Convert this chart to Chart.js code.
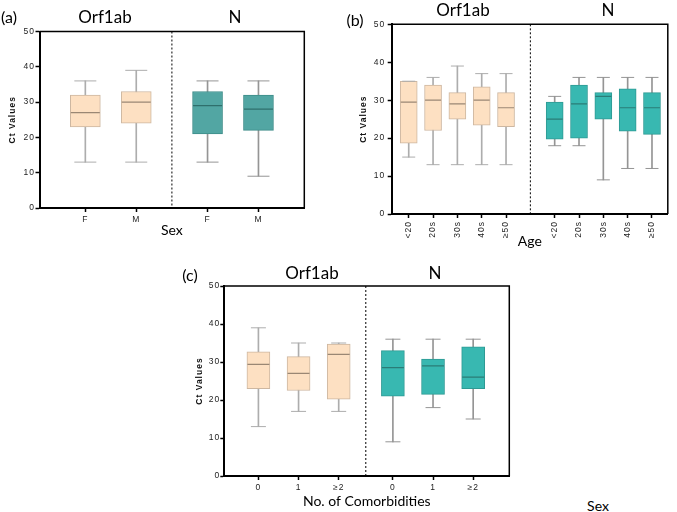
<!DOCTYPE html>
<html><head><meta charset="utf-8">
<script src="https://cdn.jsdelivr.net/npm/chart.js@4.4.1/dist/chart.umd.min.js"></script>
<style>
html,body{margin:0;padding:0;background:#fff;}
body{width:677px;height:512px;position:relative;overflow:hidden;font-family:Lato,'Liberation Sans',sans-serif;}
.wrap{position:absolute;}
.lbl{position:absolute;transform:translate(-50%,-50%);white-space:nowrap;color:#000;line-height:1;}
</style></head><body>
<div class="wrap" style="left:0;top:0;"><canvas id="ca" width="320" height="245" style="width:320px;height:245px"></canvas></div>
<div class="wrap" style="left:330px;top:0;"><canvas id="cb" width="347" height="250" style="width:347px;height:250px"></canvas></div>
<div class="wrap" style="left:170px;top:250px;"><canvas id="cc" width="360" height="262" style="width:360px;height:262px"></canvas></div>

<div class="lbl" style="left:9px;top:17px;font-size:16px">(a)</div>
<div class="lbl" style="left:105px;top:16px;font-size:17px">Orf1ab</div>
<div class="lbl" style="left:235px;top:16px;font-size:17px">N</div>
<div class="lbl" style="left:355px;top:20px;font-size:16px">(b)</div>
<div class="lbl" style="left:463px;top:9px;font-size:17px">Orf1ab</div>
<div class="lbl" style="left:608px;top:9px;font-size:17px">N</div>
<div class="lbl" style="left:190px;top:275px;font-size:16px">(c)</div>
<div class="lbl" style="left:312px;top:272px;font-size:17px">Orf1ab</div>
<div class="lbl" style="left:435px;top:272px;font-size:17px">N</div>
<div class="lbl" style="left:598px;top:506px;font-size:14px">Sex</div>

<script>
// ---------- data ----------
const yTicks = [0, 10, 20, 30, 40, 50];

// (a) Sex
const sexLabels = ['F', 'M', 'F', 'M'];
const sexGene   = ['Orf1ab', 'Orf1ab', 'N', 'N'];
const sexMin    = [13, 13, 13, 9];
const sexQ1     = [23, 24, 21, 22];
const sexMedian = [27, 30, 29, 28];
const sexQ3     = [32, 33, 33, 32];
const sexMax    = [36, 39, 36, 36];

// (b) Age
const ageLabels = ['<20', '20s', '30s', '40s', '≥50', '<20', '20s', '30s', '40s', '≥50'];
const ageGene   = ['Orf1ab', 'Orf1ab', 'Orf1ab', 'Orf1ab', 'Orf1ab', 'N', 'N', 'N', 'N', 'N'];
const ageMin    = [15, 13, 13, 13, 13, 18, 18, 9, 12, 12];
const ageQ1     = [18.7, 22, 25, 23.4, 23, 19.7, 20, 25, 21.8, 21];
const ageMedian = [29.5, 30, 29, 30, 28, 25, 29, 31, 28, 28];
const ageQ3     = [35, 34, 32, 33.5, 32, 29.5, 34, 32, 33, 32];
const ageMax    = [35, 36, 39, 37, 37, 31, 36, 36, 36, 36];

// (c) No. of Comorbidities
const comLabels = ['0', '1', '≥2', '0', '1', '≥2'];
const comGene   = ['Orf1ab', 'Orf1ab', 'Orf1ab', 'N', 'N', 'N'];
const comMin    = [13, 17, 17, 9, 18, 15];
const comQ1     = [23, 22.5, 20.2, 21, 21.5, 23];
const comMedian = [29.4, 27, 32, 28.5, 29, 26];
const comQ3     = [32.7, 31.4, 34.7, 33, 30.8, 34];
const comMax    = [39, 35, 35, 36, 36, 36];

// ---------- rendering ----------
const TICK_FONT = {family: 'Liberation Sans', size: 8.5};

// letter spacing: x-axis titles plain, everything else spaced
const origDrawTitle = Chart.Scale.prototype.drawTitle;
Chart.Scale.prototype.drawTitle = function () {
  const ctx = this.ctx;
  const prev = ctx.letterSpacing;
  ctx.letterSpacing = this.axis === 'x' ? '0px' : '1px';
  origDrawTitle.call(this);
  ctx.letterSpacing = prev;
};

const framePlugin = {
  id: 'frame',
  beforeDraw(chart) { chart.ctx.letterSpacing = '1px'; },
  afterDatasetsDraw(chart, args, opts) {
    const {ctx, chartArea: {left, right, top, bottom}, scales: {x}} = chart;
    ctx.save();
    ctx.strokeStyle = '#000';
    ctx.lineWidth = 1.5;
    ctx.beginPath();
    ctx.moveTo(left, top); ctx.lineTo(right, top); ctx.lineTo(right, bottom);
    ctx.stroke();
    const sx = x.getPixelForValue(opts.sep);
    ctx.lineWidth = 1;
    ctx.setLineDash([2, 2]);
    ctx.beginPath();
    ctx.moveTo(sx, top); ctx.lineTo(sx, bottom);
    ctx.stroke();
    ctx.restore();
  }
};

function makePanel(id, d, L) {
  const pos = d.gene.map((g, i) => i + 1 + (g === 'N' ? L.gap : 0));
  const lastOrf = Math.max(...pos.filter((p, i) => d.gene[i] !== 'N'));
  const firstN = Math.min(...pos.filter((p, i) => d.gene[i] === 'N'));
  const isN = i => d.gene[i] === 'N';
  const fill = d.gene.map((g, i) => isN(i) ? L.nFill : '#FDE0C2');
  const border = d.gene.map((g, i) => isN(i) ? L.nBorder : '#CDB7A1');
  const med = d.gene.map((g, i) => isN(i) ? L.nMedian : '#9A8774');
  const whisk = d.gene.map((g, i) => isN(i) ? '#959595' : '#ADADAD');
  const capData = [], capColors = [];
  pos.forEach((p, i) => {
    capData.push({x: p, y: d.min[i]}); capColors.push(whisk[i]);
    capData.push({x: p, y: d.max[i]}); capColors.push(whisk[i]);
  });

  return new Chart(document.getElementById(id), {
    type: 'bar',
    data: {
      datasets: [
        {
          type: 'bar', order: 3, grouped: false,
          data: pos.map((p, i) => ({x: p, y: [d.min[i], d.max[i]]})),
          backgroundColor: whisk, borderWidth: 0, barThickness: 1
        },
        {
          type: 'bar', order: 2, grouped: false,
          data: pos.map((p, i) => ({x: p, y: [d.q1[i], d.q3[i]]})),
          backgroundColor: fill, borderColor: border, borderWidth: 1,
          borderSkipped: false, barThickness: L.boxW
        },
        {
          type: 'scatter', order: 1,
          data: pos.map((p, i) => ({x: p, y: d.median[i]})),
          pointStyle: 'line', pointRadius: L.boxW / 2 - 0.5, pointHoverRadius: L.boxW / 2 - 0.5,
          pointBorderColor: med, pointBorderWidth: 1.2, showLine: false
        },
        {
          type: 'scatter', order: 1,
          data: capData,
          pointStyle: 'line', pointRadius: L.capR, pointHoverRadius: L.capR,
          pointBorderColor: capColors, pointBorderWidth: 1, showLine: false
        }
      ]
    },
    options: {
      responsive: false,
      animation: false,
      events: [],
      layout: {padding: {top: L.padTop, right: L.padRight, left: 0, bottom: 0}},
      plugins: {legend: {display: false}, tooltip: {enabled: false}, frame: {sep: (lastOrf + firstN) / 2}},
      scales: {
        x: {
          type: 'linear', min: L.xMin, max: L.xMax, offset: false,
          afterBuildTicks: s => { s.ticks = pos.map(v => ({value: v})); },
          ticks: {
            autoSkip: false, callback: (v, i) => d.labels[i],
            maxRotation: L.rot, minRotation: L.rot,
            font: TICK_FONT, color: '#222', padding: 3
          },
          grid: {drawOnChartArea: false, drawTicks: true, tickLength: 4, tickWidth: 1.5, tickColor: '#000', offset: false},
          border: {display: true, color: '#000', width: 2},
          title: {display: true, text: L.xTitle, font: {family: 'Lato', size: 14}, color: '#000',
                  padding: {top: 0, bottom: L.xTitlePad}},
          afterFit: s => { s.height = L.xH; }
        },
        y: {
          type: 'linear', min: 0, max: 50,
          afterBuildTicks: s => { s.ticks = yTicks.map(v => ({value: v})); },
          ticks: {font: TICK_FONT, color: '#222', padding: L.yTickPad},
          grid: {drawOnChartArea: false, drawTicks: true, tickLength: 4, tickWidth: 1.5, tickColor: '#000'},
          border: {display: true, color: '#000', width: 2},
          title: {display: true, text: 'Ct Values', font: {family: 'Liberation Sans', size: 8.5, weight: 'bold'},
                  color: '#111', padding: {top: L.yTitlePad, bottom: 0}},
          afterFit: s => { s.width = L.yW; }
        }
      }
    },
    plugins: [framePlugin]
  });
}

makePanel('ca',
  {labels: sexLabels, gene: sexGene, min: sexMin, q1: sexQ1, median: sexMedian, q3: sexQ3, max: sexMax},
  {gap: 0.4, xMin: 0.1, xMax: 5.3, boxW: 30, capR: 11, rot: 0,
   nFill: '#52A6A3', nBorder: '#3E8C89', nMedian: '#2F6F6C',
   padTop: 31.5, padRight: 14.3, yW: 39.5, xH: 37, yTitlePad: 7.9, yTickPad: 0.5,
   xTitle: 'Sex', xTitlePad: 6.6});

makePanel('cb',
  {labels: ageLabels, gene: ageGene, min: ageMin, q1: ageQ1, median: ageMedian, q3: ageQ3, max: ageMax},
  {gap: 1, xMin: 0.3, xMax: 11.65, boxW: 17, capR: 6.5, rot: 90,
   nFill: '#38B8B1', nBorder: '#2E9A94', nMedian: '#2A7C77',
   padTop: 24.3, padRight: 2, yW: 61.7, xH: 36, yTitlePad: 28.9, yTickPad: 2.5,
   xTitle: 'Age', xTitlePad: 0.6});

makePanel('cc',
  {labels: comLabels, gene: comGene, min: comMin, q1: comQ1, median: comMedian, q3: comQ3, max: comMax},
  {gap: 0.35, xMin: 0.15, xMax: 7.25, boxW: 23, capR: 7.5, rot: 0,
   nFill: '#38B8B1', nBorder: '#2E9A94', nMedian: '#2A7C77',
   padTop: 36, padRight: 20.7, yW: 54.3, xH: 36, yTitlePad: 24.2, yTickPad: 0,
   xTitle: 'No. of Comorbidities', xTitlePad: 2.6});
</script>
</body></html>
